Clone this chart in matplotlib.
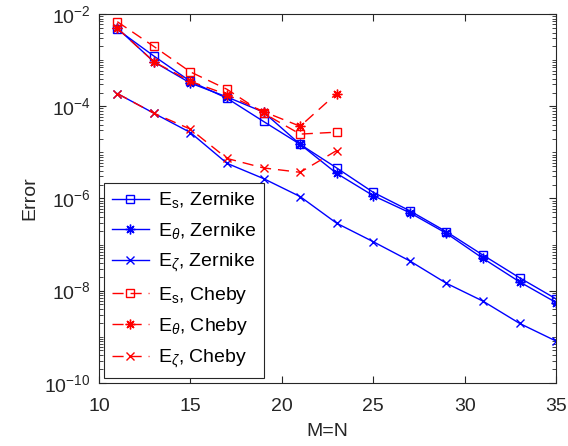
import numpy as np
import matplotlib.pyplot as plt
from matplotlib.ticker import LogLocator, NullFormatter, FixedLocator

plt.rcParams['font.family'] = ['Liberation Sans', 'DejaVu Sans']
plt.rcParams['mathtext.fontset'] = 'custom'
plt.rcParams['mathtext.rm'] = 'Liberation Sans'
plt.rcParams['mathtext.it'] = 'Liberation Sans:italic'

# M=N values
n_zern = [11, 13, 15, 17, 19, 21, 23, 25, 27, 29, 31, 33, 35]
n_cheb = [11, 13, 15, 17, 19, 21, 23]

es_zern = [4.7e-3, 1.24e-3, 3.5e-4, 1.5e-4, 4.7e-5, 1.5e-5, 4.6e-6, 1.36e-6, 5.4e-7, 1.9e-7, 5.9e-8, 1.9e-8, 6.6e-9]
eth_zern = [5.0e-3, 9.3e-4, 3.2e-4, 1.6e-4, 7.5e-5, 1.5e-5, 3.5e-6, 1.15e-6, 4.9e-7, 1.75e-7, 5.0e-8, 1.55e-8, 5.5e-9]
ez_zern = [1.9e-4, 7.1e-5, 2.7e-5, 5.8e-6, 2.7e-6, 1.1e-6, 2.9e-7, 1.15e-7, 4.4e-8, 1.44e-8, 5.9e-9, 1.94e-9, 8.0e-10]

es_cheb = [6.9e-3, 2.0e-3, 5.6e-4, 2.35e-4, 7.1e-5, 2.5e-5, 2.75e-5]
eth_cheb = [5.0e-3, 9.3e-4, 3.5e-4, 1.8e-4, 7.7e-5, 3.7e-5, 1.9e-4]
ez_cheb = [1.9e-4, 7.1e-5, 3.2e-5, 7.4e-6, 4.6e-6, 3.7e-6, 1.1e-5]

fig = plt.figure(figsize=(5.68, 4.46), dpi=100)
ax = fig.add_axes([0.1743, 0.142, 0.8047, 0.826])

blue = '#0000ff'
red = '#ff0000'
lw = 1.0
star = (8, 2, 0)
ax.semilogy(n_zern, es_zern, '-', color=blue, marker='s', ms=5.5, mfc='none', lw=lw, label=r'E$_\mathrm{s}$, Zernike')
ax.semilogy(n_zern, eth_zern, '-', color=blue, marker=star, ms=7, mew=1.0, lw=lw, label=r'E$_\theta$, Zernike')
ax.semilogy(n_zern, ez_zern, '-', color=blue, marker='x', ms=6, mew=1.0, lw=lw, label=r'E$_\zeta$, Zernike')
ax.semilogy(n_cheb, es_cheb, '--', color=red, marker='s', ms=5.5, mfc='none', lw=lw, dashes=(8, 5), label=r'E$_\mathrm{s}$, Cheby')
ax.semilogy(n_cheb, eth_cheb, '--', color=red, marker=star, ms=7, mew=1.0, lw=lw, dashes=(8, 5), label=r'E$_\theta$, Cheby')
ax.semilogy(n_cheb, ez_cheb, '--', color=red, marker='x', ms=6, mew=1.0, lw=lw, dashes=(8, 5), label=r'E$_\zeta$, Cheby')

ax.set_xlim(10, 35)
ax.set_ylim(1e-10, 1e-2)
ax.set_xticks([10, 15, 20, 25, 30, 35])
ax.yaxis.set_major_locator(FixedLocator([1e-10, 1e-8, 1e-6, 1e-4, 1e-2]))
ax.yaxis.set_minor_locator(LogLocator(base=10, subs=np.arange(1, 10), numticks=100))
ax.yaxis.set_minor_formatter(NullFormatter())

dark = '#262626'
for s in ax.spines.values():
    s.set_color(dark)
    s.set_linewidth(0.8)
ax.tick_params(which='both', direction='in', top=True, right=True, colors=dark, labelsize=14)
ax.tick_params(which='major', length=5)
ax.tick_params(which='minor', length=3)
ax.tick_params(axis='y', pad=6)
ax.tick_params(axis='x', pad=11)

ax.set_xlabel('M=N', fontsize=14, color=dark, labelpad=6)
ax.set_ylabel('Error', fontsize=14, color=dark, labelpad=4)

leg = ax.legend(loc='lower left', fontsize=14, handlelength=1.9, handletextpad=0.5,
                labelspacing=0.55, borderpad=0.4, borderaxespad=0.25,
                fancybox=False, framealpha=1, edgecolor=dark)
leg.get_frame().set_linewidth(0.8)

fig.savefig('out.png', dpi=100)
